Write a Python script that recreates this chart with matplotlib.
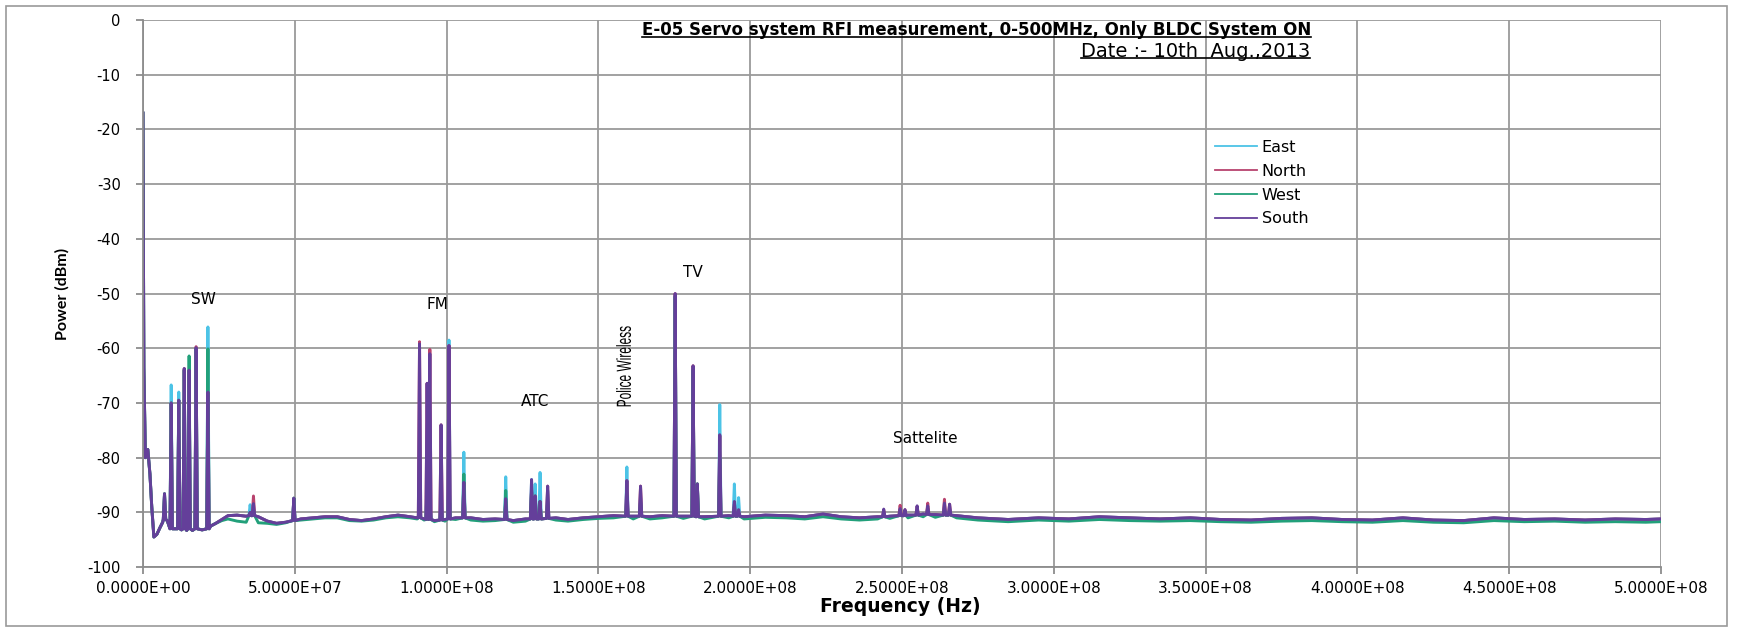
import numpy as np
import matplotlib.pyplot as plt
from matplotlib.lines import Line2D
from matplotlib.patches import Rectangle, PathPatch
from matplotlib.textpath import TextPath
from matplotlib.font_manager import FontProperties
from matplotlib.transforms import Affine2D
from matplotlib.ticker import FuncFormatter, MultipleLocator

plt.rcParams['axes.unicode_minus'] = False

# noise floor of the sweep (MHz -> dBm); East, North and South sit on the same floor
floor_mhz = [0, 0.3, 0.8, 1.6, 2.3, 2.9, 3.6, 4.6, 5.6, 6.5, 8.0, 10.5, 12.7, 14.4, 16.3,
             19.5, 22.3, 24, 26, 28, 31, 34, 38, 41, 44, 47, 52, 56, 60, 64, 68, 72, 76,
             80, 84, 88, 90.3, 92.6, 96, 99.5, 103, 108, 112, 116, 122, 126, 136, 140,
             145, 150, 155, 161.5, 167, 171, 178, 185, 193, 198, 205, 212, 218, 224, 230,
             236, 242, 246, 252, 257, 261, 268, 275, 285, 295, 305, 315, 325, 335, 345,
             355, 365, 375, 385, 395, 405, 415, 425, 435, 445, 455, 465, 475, 485, 495, 500]
floor_dbm = [-17, -63.5, -80, -78.5, -83, -89, -94.5, -94, -92.8, -91.8, -91.5, -93, -93.2,
             -93.3, -93.3, -93.2, -92.5, -92, -91.3, -90.6, -90.5, -90.7, -90.8, -91.6, -92,
             -91.8, -91.2, -91, -90.8, -90.8, -91.3, -91.5, -91.2, -90.8, -90.5, -90.8, -91,
             -91.2, -91.5, -91.3, -91, -91, -91.3, -91.2, -91.5, -91.2, -91, -91.3, -91,
             -90.8, -90.6, -90.7, -90.8, -90.6, -90.7, -90.8, -90.6, -90.8, -90.5, -90.6,
             -90.8, -90.3, -90.8, -91.0, -90.8, -90.7, -90.5, -90.3, -90.4, -90.6, -91,
             -91.3, -91, -91.2, -90.8, -91, -91.2, -91, -91.3, -91.4, -91.1, -91, -91.3,
             -91.4, -91, -91.4, -91.5, -91, -91.3, -91.2, -91.4, -91.2, -91.3, -91.2]
west_floor_dbm = [-17, -63.5, -80, -78.5, -83, -89, -94.5, -94, -92.8, -91.8, -91.5, -93,
                  -93.2, -93.3, -93.3, -93.2, -92.5, -92, -91.5, -91.2, -91.6, -91.8, -91.9,
                  -92, -92.2, -91.9, -91.4, -91.2, -91, -91, -91.5, -91.6, -91.4, -91, -90.8,
                  -91, -91.2, -91.4, -91.7, -91.6, -91.3, -91.4, -91.6, -91.5, -91.8, -91.6,
                  -91.4, -91.6, -91.3, -91.1, -91, -91.2, -91.2, -91, -91.1, -91.2, -91,
                  -91.2, -90.9, -91, -91.2, -90.8, -91.2, -91.4, -91.2, -91.1, -91, -90.8,
                  -90.9, -91, -91.4, -91.7, -91.4, -91.6, -91.3, -91.5, -91.6, -91.5, -91.7,
                  -91.8, -91.6, -91.5, -91.7, -91.8, -91.5, -91.8, -91.9, -91.5, -91.7,
                  -91.6, -91.8, -91.7, -91.8, -91.7]

# narrow carriers: centre (MHz), level at the foot, and the top reached by each direction
peak_mhz = [7.1, 9.3, 11.8, 13.6, 15.2, 17.5, 21.4, 35.3, 36.4, 49.7,
            91.1, 93.6, 94.5, 98.2, 100.8, 105.7, 119.5, 128.0, 129.2, 130.8, 133.3,
            159.4, 163.9, 175.3, 181.2, 182.6, 190.0, 194.8, 196.2,
            244.0, 249.4, 251.0, 255.0, 258.5, 264.0, 265.7]
peak_foot_dbm = [-91.3, -93, -93, -93, -93, -93, -93, -90.6, -90.6, -91.5,
                 -91, -91.3, -91.3, -91.4, -91.2, -91, -91.3, -91.2, -91.2, -91.2, -91.1,
                 -90.7, -90.7, -90.7, -90.7, -90.8, -90.7, -90.7, -90.7,
                 -90.8, -90.6, -90.6, -90.5, -90.4, -90.5, -90.5]
east_peak_dbm = [-86.6, -66.7, -68, -64, -64, -60, -56.1, -88.6, -89.5, -87.4,
                 -85, -83, -88, -88, -58.5, -79, -83.5, -84, -84.8, -82.7, -86,
                 -81.7, -87, -50.5, -64, -84.8, -70.3, -84.8, -87.3,
                 -90, -89.8, -90, -89.5, -89.2, -89, -89.4]
north_peak_dbm = [-86.6, -70, -69.5, -63.7, -64, -59.7, -68, -90, -87, -87.4,
                  -58.8, -66.4, -60.2, -74, -59.5, -84.5, -88, -86, -87, -88, -85.2,
                  -84.2, -85.2, -50, -63.2, -84.8, -76, -88.5, -89.8,
                  -89.6, -88.7, -89.5, -88.9, -88.3, -87.6, -88.5]
west_peak_dbm = [-86.6, -70, -69.5, -64, -61.4, -60, -60.1, -90, -89.5, -87.4,
                 -85, -85, -88, -88, -83, -83, -86, -86, -87, -88, -88,
                 -87, -88, -50.5, -64, -84.8, -80, -89, -90,
                 -90.5, -90, -90.2, -89.8, -89.6, -89.4, -89.6]
south_peak_dbm = [-86.6, -70, -69.5, -63.7, -64, -59.9, -68, -90, -88.4, -87.4,
                  -59.2, -66.4, -61, -74, -59.5, -84.5, -87.5, -84, -87, -88, -85.2,
                  -84.2, -85.2, -50, -63.2, -84.8, -75.8, -88, -89.5,
                  -89.4, -89.3, -89.5, -88.8, -88.8, -88.3, -88.5]

series_names = ['East', 'North', 'West', 'South']
series_colors = ['#4CC3E6', '#B8436E', '#22A07A', '#643F9A']

band_labels = ['SW', 'FM', 'ATC', 'TV', 'Sattelite']
band_mhz = [19.9, 97.0, 129.0, 181.2, 257.6]
band_dbm = [-51.1, -52.0, -69.7, -46.1, -76.5]


def trace(floor_vals, tops):
    f = list(floor_mhz)
    p = list(floor_vals)
    for fc, foot, top in zip(peak_mhz, peak_foot_dbm, tops):
        f += [fc - 0.4, fc, fc + 0.4]
        p += [foot, top, foot]
    order = np.argsort(f)
    return np.array(f)[order] * 1e6, np.array(p)[order]


fig = plt.figure(figsize=(17.37, 6.28), dpi=100)
ax = fig.add_axes([0.0823, 0.097, 0.8739, 0.871])

floors = [floor_dbm, floor_dbm, west_floor_dbm, floor_dbm]
tops = [east_peak_dbm, north_peak_dbm, west_peak_dbm, south_peak_dbm]
for name, col, fl, tp in zip(series_names, series_colors, floors, tops):
    x, y = trace(fl, tp)
    ax.plot(x, y, color=col, lw=2.1, label=name)

ax.set_xlim(0, 5e8)
ax.set_ylim(-100, 0)
ax.xaxis.set_major_locator(MultipleLocator(5e7))
ax.yaxis.set_major_locator(MultipleLocator(10))
ax.xaxis.set_major_formatter(FuncFormatter(lambda v, p: f'{v:.4E}'))
ax.grid(True, color='#9A9A9A', lw=1.3)
ax.set_axisbelow(True)
for s in ['top', 'right']:
    ax.spines[s].set_visible(False)
for s in ['left', 'bottom']:
    ax.spines[s].set_color('#8C8C8C')
    ax.spines[s].set_linewidth(1.3)
ax.tick_params(axis='both', colors='#8C8C8C', length=5, width=1.3, labelcolor='black')
ax.tick_params(axis='x', pad=5, labelsize=11)
ax.tick_params(axis='y', pad=11, labelsize=10.5)

for lab, fx, fy in zip(band_labels, band_mhz, band_dbm):
    ax.text(fx * 1e6, fy, lab, ha='center', va='center', fontsize=11)

# condensed, rotated "Police Wireless" label
tp = TextPath((0, 0), 'Police Wireless', size=20, prop=FontProperties(family='Liberation Sans'))
ext = tp.get_extents()
cx, cy = ax.transData.transform((158.3e6, -63.3))
pw = (Affine2D().translate(-(ext.x0 + ext.x1) / 2, -(ext.y0 + ext.y1) / 2)
      .scale(80 / ext.width, 15 / ext.height).rotate_deg(90).translate(cx, cy))
fig.add_artist(PathPatch(tp, transform=pw, fc='black', ec='none'))

title = ax.text(0.549, 0.998, 'E-05 Servo system RFI measurement, 0-500MHz, Only BLDC System ON',
                transform=ax.transAxes, ha='center', va='top', fontsize=12,
                fontweight='bold')
date = ax.text(0.769, 0.960, 'Date :- 10th  Aug.,2013', transform=ax.transAxes,
               ha='right', va='top', fontsize=14)

leg = ax.legend(loc='upper left', bbox_to_anchor=(0.697, 0.807), frameon=False,
                handlelength=2.6, handletextpad=0.3, labelspacing=0.55,
                prop={'size': 11.5})
for h in leg.get_lines():
    h.set_linewidth(1.3)

fig.text(62 / 1737, 1 - 294 / 628, 'Power (dBm)', rotation=90, ha='center', va='center',
         fontsize=11.5, fontweight='bold', family='Lato')
fig.text(900 / 1737, 1 - 606 / 628, 'Frequency (Hz)', ha='center', va='center',
         fontsize=13.5, fontweight='bold')

fig.patches.append(Rectangle((6 / 1737, 2 / 628), 1721 / 1737, 620 / 628,
                             transform=fig.transFigure, fill=False, ec='#9A9A9A', lw=1.2))

# underline title and date
fig.canvas.draw()
r = fig.canvas.get_renderer()
for t in [title, date]:
    bb = t.get_window_extent(r)
    fig.add_artist(Line2D([bb.x0, bb.x1], [bb.y0 + 2.5, bb.y0 + 2.5], color='black', lw=1.2,
                          transform=None))

fig.savefig('out.png', dpi=100)
